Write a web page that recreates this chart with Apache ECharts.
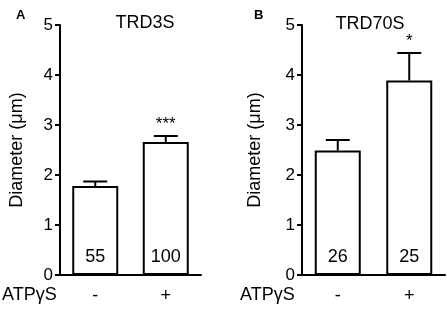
<!DOCTYPE html>
<html>
<head>
<meta charset="utf-8">
<script src="https://cdn.jsdelivr.net/npm/echarts@6/dist/echarts.min.js"></script>
<style>
  html, body { margin: 0; padding: 0; background: #fff; }
  #chart { width: 447px; height: 310px; }
</style>
</head>
<body>
<div id="chart"></div>
<script>
const FONT = "'Liberation Sans', Arial, Helvetica, sans-serif"

const categories = ['-', '+']
const yTicks = [0, 1, 2, 3, 4, 5]

// panel A: TRD3S
const meansA = [1.78, 2.66]
const errA = [0.09, 0.12]
const countsA = [55, 100]
const sigA = ['', '***']

// panel B: TRD70S
const meansB = [2.49, 3.89]
const errB = [0.21, 0.55]
const countsB = [26, 25]
const sigB = ['', '*']

const chart = echarts.init(document.getElementById('chart'))

const yAxisFor = (gridIndex, nameGap) => ({
  gridIndex,
  type: 'value',
  min: yTicks[0],
  max: yTicks[yTicks.length - 1],
  interval: 1,
  name: 'Diameter (\u03bcm)',
  nameLocation: 'middle',
  nameRotate: 90,
  nameGap,
  nameTextStyle: { color: '#000', fontSize: 18, fontFamily: FONT },
  axisLine: { show: true, lineStyle: { color: '#000', width: 2 } },
  axisTick: { show: true, length: 5, lineStyle: { color: '#000', width: 2 } },
  axisLabel: { color: '#000', fontSize: 17, fontFamily: FONT, margin: 7 },
  splitLine: { show: false },
})

const xAxisFor = (gridIndex) => ({
  gridIndex,
  type: 'category',
  data: categories,
  axisLine: { lineStyle: { color: '#000', width: 2 } },
  axisTick: { show: false },
  axisLabel: { color: '#000', fontSize: 18, fontFamily: FONT, margin: 12 },
})

const barFor = (idx, means, counts) => ({
  type: 'bar',
  xAxisIndex: idx,
  yAxisIndex: idx,
  data: means,
  barWidth: 46,
  z: 2,
  itemStyle: { color: '#fff', borderColor: '#000', borderWidth: 2 },
  label: {
    show: true,
    position: 'insideBottom',
    distance: 9,
    color: '#000',
    fontSize: 18,
    fontFamily: FONT,
    formatter: (p) => String(counts[p.dataIndex]),
  },
})

// upper error bar with cap plus significance marks
const errorFor = (idx, means, errs, sigs) => ({
  type: 'custom',
  xAxisIndex: idx,
  yAxisIndex: idx,
  z: 1,
  data: means.map((m, i) => [i, m, errs[i]]),
  renderItem: (params, api) => {
    const i = api.value(0)
    const base = api.coord([i, api.value(1)])
    const top = api.coord([i, api.value(1) + api.value(2)])
    const half = 12
    const children = [
      {
        type: 'line',
        shape: { x1: base[0], y1: base[1], x2: top[0], y2: top[1] },
        style: { stroke: '#000', lineWidth: 2 },
      },
      {
        type: 'line',
        shape: { x1: top[0] - half, y1: top[1], x2: top[0] + half, y2: top[1] },
        style: { stroke: '#000', lineWidth: 2 },
      },
    ]
    if (sigs[i]) {
      children.push({
        type: 'text',
        style: {
          text: sigs[i],
          x: top[0],
          y: top[1] - 3,
          align: 'center',
          verticalAlign: 'bottom',
          fill: '#000',
          font: '17px ' + FONT,
        },
      })
    }
    return { type: 'group', children }
  },
})

chart.setOption({
  animation: false,
  backgroundColor: '#fff',
  title: [
    { text: 'A', left: 11, top: 4, textStyle: { fontSize: 13, fontWeight: 'bold', color: '#000', fontFamily: FONT } },
    { text: 'TRD3S', left: 140, top: 9, textAlign: 'center', textStyle: { fontSize: 18, fontWeight: 'normal', color: '#000', fontFamily: FONT } },
    { text: 'B', left: 249, top: 4, textStyle: { fontSize: 13, fontWeight: 'bold', color: '#000', fontFamily: FONT } },
    { text: 'TRD70S', left: 365, top: 10, textAlign: 'center', textStyle: { fontSize: 18, fontWeight: 'normal', color: '#000', fontFamily: FONT } },
  ],
  graphic: [
    { type: 'text', left: 2, top: 286, style: { text: 'ATP\u03b3S', fill: '#000', font: '18px ' + FONT } },
    { type: 'text', left: 240, top: 286, style: { text: 'ATP\u03b3S', fill: '#000', font: '18px ' + FONT } },
  ],
  grid: [
    { left: 60, top: 25, width: 141, height: 250 },
    { left: 302, top: 25, width: 143, height: 250 },
  ],
  xAxis: [xAxisFor(0), xAxisFor(1)],
  yAxis: [yAxisFor(0, 34), yAxisFor(1, 38)],
  series: [
    barFor(0, meansA, countsA),
    errorFor(0, meansA, errA, sigA),
    barFor(1, meansB, countsB),
    errorFor(1, meansB, errB, sigB),
  ],
})
</script>
</body>
</html>
